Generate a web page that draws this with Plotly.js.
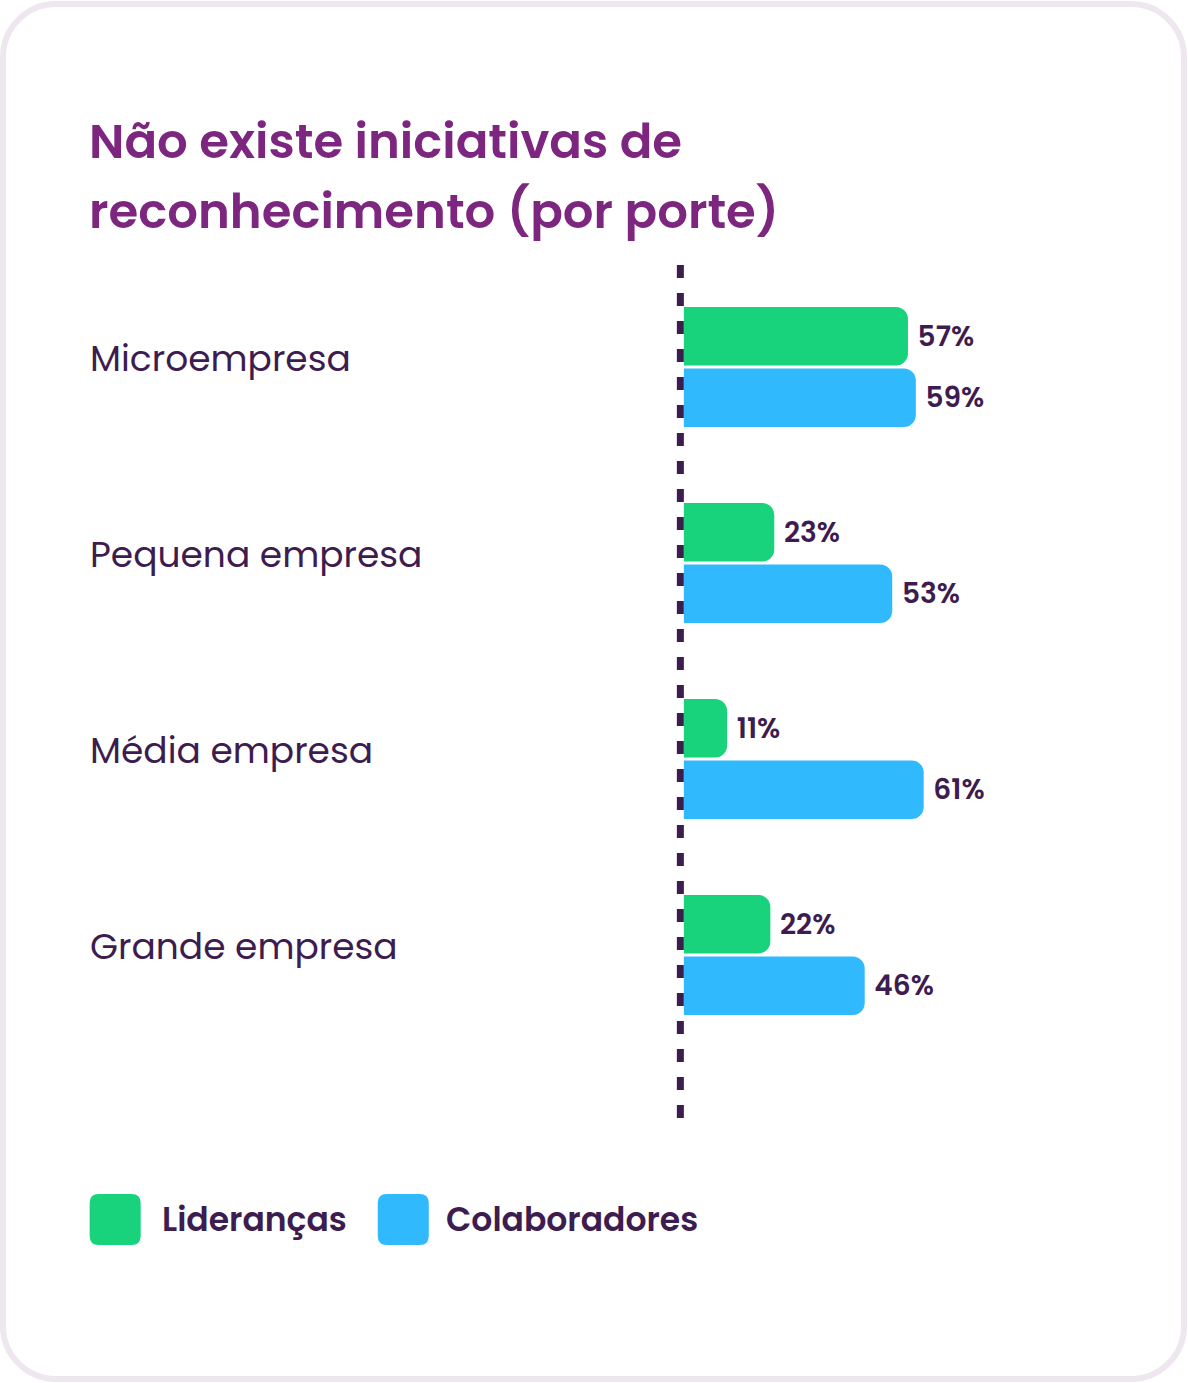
<!DOCTYPE html>
<html>
<head>
<meta charset="utf-8">
<script src="https://cdn.plot.ly/plotly-3.0.1.min.js"></script>
<style>
  body { margin: 0; background: #ffffff; }
  #card {
    position: absolute; left: 0; top: 1px; width: 1187px; height: 1381px;
    box-sizing: border-box; border: 6px solid #efe7f0; border-radius: 56px; background: #fff;
  }
  #chart { position: absolute; left: 0; top: 0; width: 1188px; height: 1383px; }
</style>
</head>
<body>
<div id="card"></div>
<div id="chart"></div>
<script>
'use strict';

// data
const categories = ['Microempresa', 'Pequena empresa', 'Média empresa', 'Grande empresa'];
const liderancas = [57, 23, 11, 22];
const colaboradores = [59, 53, 61, 46];
const seriesNames = ['Lideranças', 'Colaboradores'];

const green = '#18d27c', blue = '#31b9fe', ink = '#3d1c4f', purple = '#7d2680';
const font = 'Poppins, "Open Sans", sans-serif';

// plot area in pixels; x axis starts 2% left of zero so the dashed line fits
const W = 1188, H = 1383;
const pxPerPct = 3.93, zeroPx = 684, leftPad = 2;
const mLeft = zeroPx - leftPad * pxPerPct, mRight = 100, mTop = 269, mBottom = 330;
const plotW = W - mLeft - mRight, plotH = H - mTop - mBottom;

function px2paperX(px) { return (px - mLeft) / plotW; }
function px2paperY(py) { return (H - mBottom - py) / plotH; }

function roundRect(x0, y0, x1, y1, r) {
	const X = px2paperX, Y = px2paperY;
	return 'M' + X(x0 + r) + ',' + Y(y0) +
		' L' + X(x1 - r) + ',' + Y(y0) +
		' Q' + X(x1) + ',' + Y(y0) + ' ' + X(x1) + ',' + Y(y0 + r) +
		' L' + X(x1) + ',' + Y(y1 - r) +
		' Q' + X(x1) + ',' + Y(y1) + ' ' + X(x1 - r) + ',' + Y(y1) +
		' L' + X(x0 + r) + ',' + Y(y1) +
		' Q' + X(x0) + ',' + Y(y1) + ' ' + X(x0) + ',' + Y(y1 - r) +
		' L' + X(x0) + ',' + Y(y0 + r) +
		' Q' + X(x0) + ',' + Y(y0) + ' ' + X(x0 + r) + ',' + Y(y0) + ' Z';
}

function barTrace(name, values, color) {
	return {
		type: 'bar',
		orientation: 'h',
		name: name,
		y: categories,
		x: values,
		marker: { color: color, cornerradius: 12 },
		texttemplate: '\u00a0%{x}%',
		textposition: 'outside',
		constraintext: 'none',
		cliponaxis: false,
		textfont: { family: font, size: 28, color: ink, weight: 600 },
		hoverinfo: 'skip'
	};
}

const data = [
	barTrace(seriesNames[0], liderancas, green),
	barTrace(seriesNames[1], colaboradores, blue)
];

const annotations = categories.map(function(c) {
	return {
		xref: 'paper', yref: 'y', x: px2paperX(88), y: c,
		xanchor: 'left', yanchor: 'middle', yshift: 9,
		text: c, showarrow: false,
		font: { family: font, size: 36, color: ink }
	};
});

const legendColors = [green, blue];
const legendX = [90, 378];
const legendTextX = [160, 444];
const shapes = [{
	type: 'line', xref: 'x', xsizemode: 'pixel', xanchor: 0, x0: -3.5, x1: -3.5,
	yref: 'paper', y0: px2paperY(265), y1: px2paperY(1122),
	line: { color: ink, width: 7, dash: '13px,15px' }, layer: 'below'
}];

seriesNames.forEach(function(name, i) {
	shapes.push({
		type: 'path', xref: 'paper', yref: 'paper',
		path: roundRect(legendX[i], 1194, legendX[i] + 51, 1245, 9),
		fillcolor: legendColors[i], line: { width: 0 }
	});
	annotations.push({
		xref: 'paper', yref: 'paper', x: px2paperX(legendTextX[i]), y: px2paperY(1219),
		xanchor: 'left', yanchor: 'middle', text: name, showarrow: false,
		font: { family: font, size: 33, color: ink, weight: 600 }
	});
});

const layout = {
	width: W, height: H,
	margin: { l: mLeft, r: mRight, t: mTop, b: mBottom },
	paper_bgcolor: 'rgba(0,0,0,0)',
	plot_bgcolor: 'rgba(0,0,0,0)',
	showlegend: false,
	barmode: 'group',
	bargap: 0.372,
	bargroupgap: 0.05,
	title: {
		// outer size sets the line spacing, inner span the glyph size
		text: '<span style="font-size:48.2px">Não existe iniciativas de<br>reconhecimento (por porte)</span>',
		xref: 'container', yref: 'container',
		x: 89 / W, xanchor: 'left',
		y: 1 - 158 / H, yanchor: 'top',
		font: { family: font, size: 54, color: purple, weight: 600 }
	},
	xaxis: {
		range: [-leftPad, plotW / pxPerPct - leftPad], showgrid: false, zeroline: false,
		showticklabels: false, showline: false, fixedrange: true
	},
	yaxis: {
		autorange: 'reversed', showgrid: false, zeroline: false,
		showticklabels: false, showline: false, fixedrange: true
	},
	shapes: shapes,
	annotations: annotations
};

Plotly.newPlot('chart', data, layout, { displayModeBar: false, staticPlot: true });
</script>
</body>
</html>
